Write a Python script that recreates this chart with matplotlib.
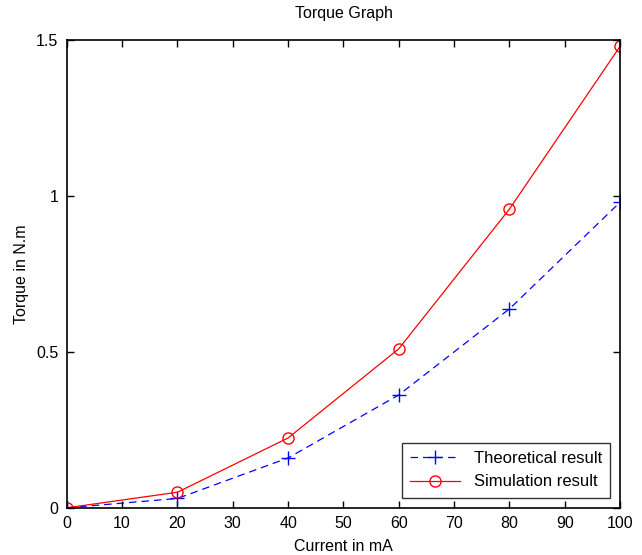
import matplotlib
matplotlib.use('Agg')
from matplotlib import pyplot as plt

plt.rcParams['font.family'] = 'Liberation Sans'
plt.rcParams['font.size'] = 10

current = [0, 20, 40, 60, 80, 100]
theoretical = [0, 0.03, 0.16, 0.362, 0.638, 0.98]
simulation = [0, 0.05, 0.224, 0.51, 0.958, 1.48]

fig = plt.figure(figsize=(6.42, 5.55), dpi=100)
ax = fig.add_axes([0.104, 0.085, 0.862, 0.843])

ax.plot(current, theoretical, color='blue', lw=0.9, ls=(0, (6, 4)),
        marker='+', markersize=10, label='Theoretical result')
ax.plot(current, simulation, '-o', color='red', lw=0.9, markersize=8,
        markerfacecolor='none', label='Simulation result')

ax.set_xlim(0, 100)
ax.set_ylim(0, 1.5)
ax.set_xticks(range(0, 101, 10))
ax.set_yticks([0, 0.5, 1, 1.5])
ax.set_yticklabels(['0', '0.5', '1', '1.5'])
ax.tick_params(direction='in', top=True, right=True, length=5, width=1,
               labelsize=11.5, pad=6)
for s in ax.spines.values():
    s.set_linewidth(1.2)

ax.set_title('Torque Graph', fontsize=11.5, pad=16)
ax.set_xlabel('Current in mA', fontsize=11.5, labelpad=6)
ax.set_ylabel('Torque in N.m', fontsize=11.5, labelpad=5)

leg = ax.legend(loc='lower right', fancybox=False, edgecolor='black', fontsize=12,
                handlelength=3, borderaxespad=0.6, borderpad=0.5)
leg.get_frame().set_linewidth(1)

fig.savefig('out.png', dpi=100)
